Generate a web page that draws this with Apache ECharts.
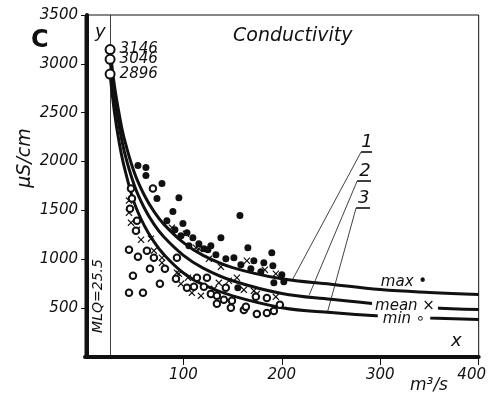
<!DOCTYPE html>
<html><head><meta charset="utf-8">
<script src="https://cdn.jsdelivr.net/npm/echarts/dist/echarts.min.js"></script>
<style>html,body{margin:0;padding:0;background:#fff}#c{width:489px;height:402px}</style>
</head><body><div id="c"></div>
<script>
// ---- data ----
const curveX    = [25.5, 30, 35, 40, 50, 60, 70, 80, 100, 120, 150, 200, 250, 300, 350, 400];
const maxCurve  = [3146, 2770, 2470, 2230, 1890, 1660, 1490, 1360, 1170, 1040, 915, 800, 745, 690, 660, 640];
const meanCurve = [3046, 2660, 2350, 2100, 1760, 1530, 1360, 1230, 1040, 910, 780, 650, 590, 540, 505, 485];
const minCurve  = [2896, 2500, 2180, 1940, 1580, 1350, 1180, 1050, 860, 740, 625, 505, 455, 420, 400, 385];

const maxPts = [[53.8,1960],[61.9,1939],[61.9,1857],[78.2,1775],[73.1,1621],[95.4,1631],[89.3,1488],[99.5,1365],[83.2,1395],[109.6,1221],[138.1,1221],[124.9,1098],[133.0,1047],[143.1,1005],[151.3,1016],[157.4,1447],[165.5,1118],[189.8,1067],[158.4,944],[168.5,903],[178.7,872],[190.9,934],[200.0,841],[191.9,759],[155.3,708],[202.0,770],[115.7,1159],[120.8,1108],[103.6,1272],[91.4,1303],[97.5,1241],[127.9,1139],[171.6,985],[181.7,964],[105.6,1139]];
const meanPts = [[44.7,1601],[44.7,1477],[46.7,1375],[52.8,1303],[56.9,1200],[67.0,1211],[70.0,1088],[78.2,1016],[88.3,1324],[102.5,1262],[112.7,1118],[93.4,862],[97.5,749],[104.6,811],[108.6,657],[117.8,626],[115.7,1108],[131.0,698],[136.0,759],[146.2,780],[154.3,811],[161.4,687],[164.5,985],[171.6,677],[174.6,646],[182.7,893],[193.9,852],[193.9,616],[95.4,852],[78.2,964],[125.9,1005],[138.1,923]];
const minPts = [[46.7,1724],[69.0,1724],[47.7,1621],[45.7,1518],[52.8,1395],[51.8,1293],[44.7,1098],[53.8,1026],[62.9,1088],[70.0,1016],[66.0,903],[48.7,831],[76.1,749],[44.7,657],[58.9,657],[81.2,903],[93.4,1016],[92.4,800],[103.6,708],[113.7,811],[110.7,718],[120.8,718],[123.9,811],[127.9,646],[134.0,544],[134.0,626],[141.1,585],[143.1,708],[149.3,575],[148.2,503],[161.4,482],[163.5,513],[173.6,616],[174.6,441],[184.8,451],[184.8,605],[191.9,472],[198.0,534]];

const MLQ = 25.5;
const startValues = [3146, 3046, 2896];
const xTicks = [100, 200, 300, 400];
const yTicks = [500, 1000, 1500, 2000, 2500, 3000, 3500];

const calloutNames = ['1', '2', '3'];
const calloutFrom  = [[280.5, 2098], [276.5, 1801], [275.4, 1525]];
const calloutTo    = [[210.6, 788], [227.8, 635], [246.1, 450]];
const underlineEndX = [291.6, 290.6, 289.6];
const calloutLabelPos = [[286.4, 2200], [284.4, 1905], [283.3, 1625]];

// ---- chart ----
const INK = '#111';
const FF = "'DejaVu Sans', sans-serif";
const it = (s) => 'italic ' + s + "px 'DejaVu Sans', sans-serif";
const pair = (xs, ys) => xs.map((x, i) => [x, ys[i]]);
const crossPath = 'path://M0,1.2L1.2,0L5,3.8L8.8,0L10,1.2L6.2,5L10,8.8L8.8,10L5,6.2L1.2,10L0,8.8L3.8,5Z';

const curveSeries = (vals) => ({
  type: 'line', data: pair(curveX, vals), smooth: 0.4,
  showSymbol: false, symbol: 'none', silent: true, z: 3,
  lineStyle: { color: INK, width: 3 }
});

const markLines = [[{ coord: [MLQ, 0] }, { coord: [MLQ, 3500] }]];
calloutFrom.forEach((p, i) => {
  markLines.push([{ coord: p }, { coord: calloutTo[i] }]);
  markLines.push([{ coord: p, lineStyle: { width: 1.6 } }, { coord: [underlineEndX[i], p[1]] }]);
});

const chart = echarts.init(document.getElementById('c'), null, { renderer: 'canvas' });
chart.setOption({
  animation: false,
  backgroundColor: '#fff',
  grid: { left: 85, right: 9, top: 15, bottom: 45, show: true, borderColor: INK, borderWidth: 1 },
  xAxis: {
    type: 'value', min: 0, max: 400, interval: 100,
    axisLine: { show: true, onZero: false, lineStyle: { color: INK, width: 4 } },
    axisTick: { show: true, length: 8, lineStyle: { color: INK, width: 1 } },
    splitLine: { show: false },
    axisLabel: {
      showMinLabel: false, margin: 11, color: INK, fontFamily: FF, fontStyle: 'italic', fontSize: 15,
      formatter: (v) => xTicks.includes(v) ? (v === 400 ? '{last|' + v + '}' : String(v)) : '',
      rich: { last: { fontFamily: FF, fontStyle: 'italic', fontSize: 15, color: INK, padding: [0, 14, 0, 0] } }
    }
  },
  yAxis: {
    type: 'value', min: 0, max: 3500, interval: 500, offset: -2,
    axisLine: { show: true, onZero: false, lineStyle: { color: INK, width: 4 } },
    axisTick: { show: true, length: 6, lineStyle: { color: INK, width: 1 } },
    splitLine: { show: false },
    axisLabel: {
      showMinLabel: false, margin: 9, color: INK, fontFamily: FF, fontStyle: 'italic', fontSize: 15,
      formatter: (v) => yTicks.includes(v) ? String(v) : ''
    }
  },
  series: [
    curveSeries(maxCurve),
    curveSeries(meanCurve),
    curveSeries(minCurve),
    { type: 'scatter', data: maxPts, symbol: 'circle', symbolSize: 7, itemStyle: { color: INK, opacity: 1 }, z: 4 },
    { type: 'scatter', data: meanPts, symbol: crossPath, symbolSize: 7, itemStyle: { color: INK, opacity: 1 }, z: 4 },
    { type: 'scatter', data: minPts, symbol: 'emptyCircle', symbolSize: 6.5, itemStyle: { color: INK, borderWidth: 1.2, opacity: 1 }, z: 4 },
    {
      type: 'scatter', data: startValues.map(v => [MLQ, v]), symbol: 'emptyCircle', symbolSize: 9,
      itemStyle: { color: INK, borderWidth: 1.6, opacity: 1 }, z: 6,
      label: { show: true, position: 'right', distance: 4, formatter: (p) => String(p.value[1]),
        color: INK, opacity: 1, textBorderWidth: 0, fontFamily: FF, fontStyle: 'italic', fontSize: 15 }
    },
    {
      type: 'line', data: [], silent: true,
      markLine: { silent: true, symbol: ['none', 'none'], label: { show: false },
        lineStyle: { color: INK, width: 0.8, type: 'solid' }, data: markLines },
      markPoint: { silent: true, symbol: 'circle', symbolSize: 0,
        label: { show: true, position: 'inside', formatter: '{b}', color: INK, fontFamily: FF, fontStyle: 'italic', fontSize: 18 },
        data: calloutNames.map((n, i) => ({ name: n, coord: calloutLabelPos[i] })) }
    }
  ],
  graphic: [
    { type: 'text', left: 31, top: 29, style: { text: 'C', font: "bold 24px 'DejaVu Sans', sans-serif", fill: INK } },
    { type: 'text', left: 233, top: 27, style: { text: 'Conductivity', font: it(19), fill: INK } },
    { type: 'text', left: 95, top: 23, style: { text: 'y', font: it(18), fill: INK } },
    { type: 'text', left: 451, top: 332, style: { text: 'x', font: it(18), fill: INK } },
    { type: 'text', left: 410, top: 377, style: { text: 'm³/s', font: it(17), fill: INK } },
    { type: 'text', x: 25, y: 158, rotation: Math.PI / 2,
      style: { text: 'μS/cm', font: it(19), fill: INK, textAlign: 'center', textVerticalAlign: 'middle' } },
    { type: 'text', x: 98, y: 296, rotation: Math.PI / 2, z: 10,
      style: { text: 'MLQ=25.5', font: it(14), fill: INK, textAlign: 'center', textVerticalAlign: 'middle' } },
    { type: 'text', x: 404, y: 282, z: 10,
      style: { text: 'max •', font: it(15), fill: INK, textAlign: 'center', textVerticalAlign: 'middle' } },
    { type: 'text', x: 405, y: 306, z: 10,
      style: { text: 'mean ×', font: it(15), fill: INK, textAlign: 'center', textVerticalAlign: 'middle', backgroundColor: '#fff', padding: [0, 3, 0, 3] } },
    { type: 'text', x: 404, y: 319, z: 10,
      style: { text: 'min ∘', font: it(15), fill: INK, textAlign: 'center', textVerticalAlign: 'middle', backgroundColor: '#fff', padding: [0, 5, 0, 5] } }
  ]
});
</script>
</body></html>
